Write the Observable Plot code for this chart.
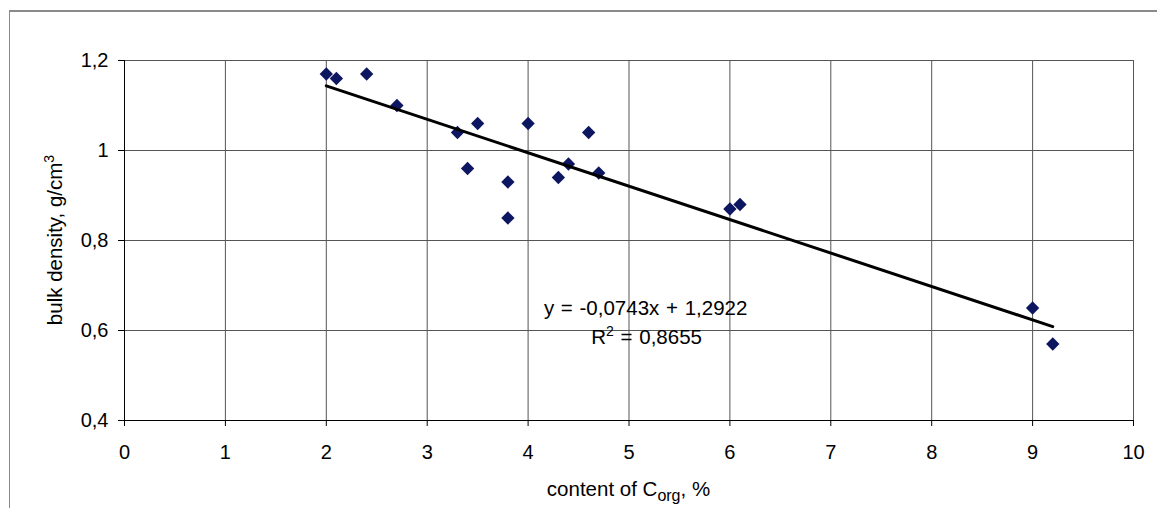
<!DOCTYPE html>
<html><head><meta charset="utf-8">
<script src="https://cdn.jsdelivr.net/npm/d3@7"></script>
<script src="https://cdn.jsdelivr.net/npm/@observablehq/plot@0.6"></script>
<style>
html,body{margin:0;padding:0;overflow:hidden;background:#fff;}
#wrap{position:relative;width:1157px;height:508px;}
#frame{position:absolute;left:9px;top:10px;width:1300px;height:700px;border-left:1px solid #8a8a8a;border-top:2px solid #8a8a8a;pointer-events:none;}
</style></head><body>
<div id="wrap"><div id="frame"></div></div>
<script>
// ---- data ----
const corg = [2.0, 2.1, 2.4, 2.7, 3.3, 3.4, 3.5, 3.8, 3.8, 4.0, 4.3, 4.4, 4.6, 4.7, 6.0, 6.1, 9.0, 9.2];
const density = [1.17, 1.16, 1.17, 1.10, 1.04, 0.96, 1.06, 0.93, 0.85, 1.06, 0.94, 0.97, 1.04, 0.95, 0.87, 0.88, 0.65, 0.57];
const xTicks = [0, 1, 2, 3, 4, 5, 6, 7, 8, 9, 10];
const yTicks = [0.4, 0.6, 0.8, 1.0, 1.2];
const trendSlope = -0.0743;
const trendIntercept = 1.2922;
const trendRange = [2.0, 9.2];
const equationLine1 = "y = -0,0743x + 1,2922";
const equationLine2 = ["R", "2", " = 0,8655"];
const xLabelParts = ["content of C", "org", ", %"];
const yLabelParts = ["bulk density, g/cm", "3"];

const points = corg.map((x, i) => ({x, y: density[i]}));
const comma = d => String(d).replace(".", ",");
const FONT = "'Liberation Sans', Arial, sans-serif";
const GRID = "#555";

const chart = Plot.plot({
  width: 1157,
  height: 508,
  marginLeft: 124,
  marginRight: 24,
  marginTop: 60,
  marginBottom: 88,
  style: {fontFamily: FONT, fontSize: "20px", color: "black", background: "transparent"},
  x: {domain: [0, 10]},
  y: {domain: [0.4, 1.2]},
  marks: [
    Plot.gridX({ticks: xTicks, stroke: GRID, strokeOpacity: 1}),
    Plot.gridY({ticks: yTicks, stroke: GRID, strokeOpacity: 1}),
    Plot.ruleX([0], {stroke: "black"}),
    Plot.ruleY([0.4], {stroke: "black"}),
    Plot.axisX({ticks: xTicks, tickSize: 6, tickPadding: 18, label: null, tickFormat: comma}),
    Plot.axisY({ticks: yTicks, tickSize: 6, tickPadding: 10, label: null, tickFormat: comma}),
    Plot.dot(points, {x: "x", y: "y", symbol: "diamond2", r: 6, fill: "#0d1660", stroke: "none"}),
    Plot.line(trendRange, {x: d => d, y: d => trendSlope * d + trendIntercept, stroke: "black", strokeWidth: 3})
  ]
});

document.getElementById("wrap").appendChild(chart);

const sx = chart.scale("x"), sy = chart.scale("y");
const svg = d3.select(chart);

// x-axis label with subscript
const xl = svg.append("text")
  .attr("x", (sx.range[0] + sx.range[1]) / 2)
  .attr("y", 496)
  .attr("text-anchor", "middle")
  .attr("fill", "black")
  .style("font-family", FONT).style("font-size", "20.5px");
xl.append("tspan").text(xLabelParts[0]);
xl.append("tspan").attr("dy", 5).style("font-size", "16px").text(xLabelParts[1]);
xl.append("tspan").attr("dy", -5).text(xLabelParts[2]);

// y-axis label with superscript
const yl = svg.append("text")
  .attr("transform", `translate(62,${(sy.range[0] + sy.range[1]) / 2}) rotate(-90)`)
  .attr("text-anchor", "middle")
  .attr("fill", "black")
  .style("font-family", FONT).style("font-size", "20.5px");
yl.append("tspan").text(yLabelParts[0]);
yl.append("tspan").attr("dy", -8).style("font-size", "14px").text(yLabelParts[1]);

// trend equation
const eqX = sx.apply(5.17);
svg.append("text")
  .attr("x", eqX).attr("y", sy.apply(0.633))
  .attr("text-anchor", "middle").attr("fill", "black")
  .style("font-family", FONT).style("font-size", "20.5px")
  .style("word-spacing", "1px")
  .text(equationLine1);
const eq2 = svg.append("text")
  .attr("x", eqX + 1).attr("y", sy.apply(0.568))
  .attr("text-anchor", "middle").attr("fill", "black")
  .style("font-family", FONT).style("font-size", "20.5px")
  .style("word-spacing", "1px");
eq2.append("tspan").text(equationLine2[0]);
eq2.append("tspan").attr("dy", -8).style("font-size", "14px").text(equationLine2[1]);
eq2.append("tspan").attr("dy", 8).text(equationLine2[2]);
</script>
</body></html>
